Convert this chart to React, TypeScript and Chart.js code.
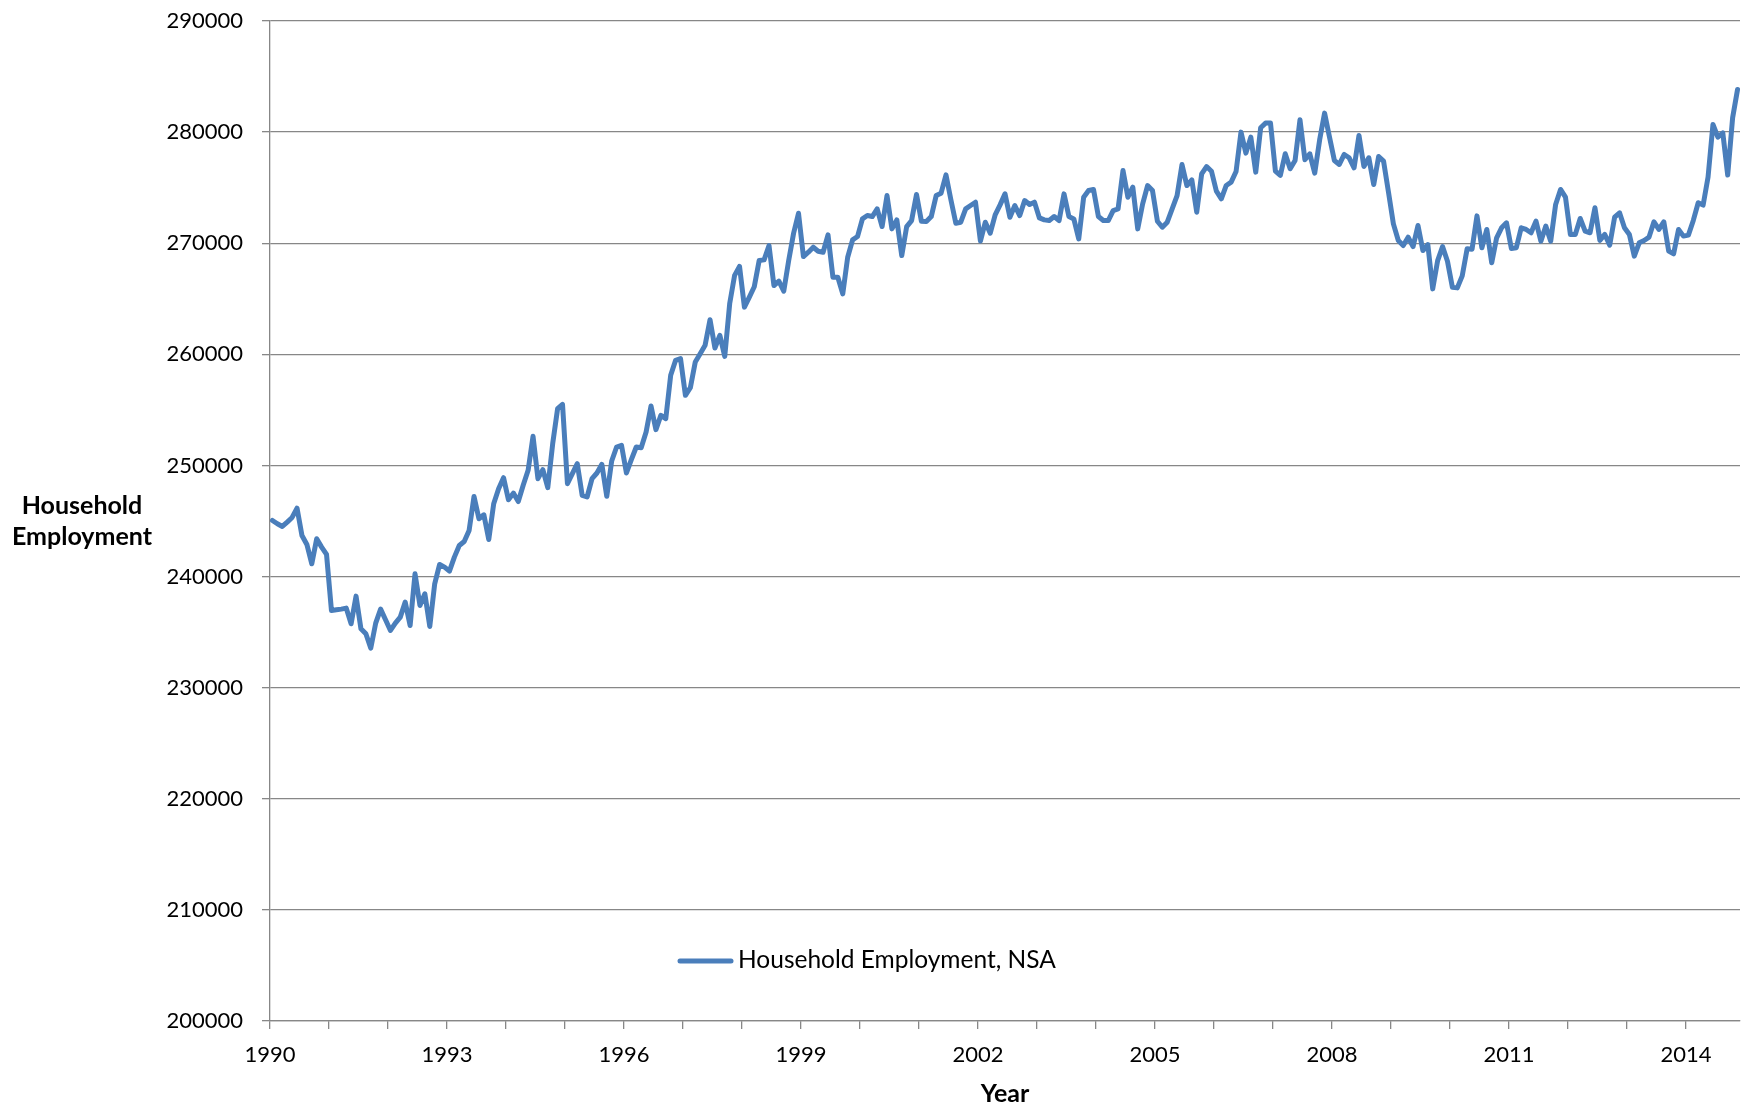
import { useEffect, useRef } from 'react';
import { Chart, registerables } from 'chart.js';

Chart.register(...registerables);

const START_YEAR = 1990;
const MONTHS_PER_YEAR = 12;
const LABEL_EVERY_YEARS = 3;
const Y_MIN = 200000;
const Y_MAX = 290000;
const Y_STEP = 10000;
const SERIES_NAME = 'Household Employment, NSA';
const Y_TITLE = ['Household', 'Employment'];
const X_TITLE = 'Year';

// Monthly values, Jan 1990 .. Nov 2014
const emp1990to1994 = [
  245050, 244750, 244510, 244900, 245320, 246160, 243700, 242890, 241150, 243400, 242650, 241990,
  236950, 237010, 237070, 237160, 235750, 238240, 235300, 234850, 233560, 235810, 237070, 236110,
  235150, 235810, 236350, 237700, 235600, 240250, 237400, 238450, 235510, 239350, 241090, 240850,
  240490, 241750, 242800, 243160, 244150, 247210, 245200, 245560, 243340, 246550, 247900, 248900,
  246910, 247510, 246750, 248210, 249560, 252620, 248810, 249620, 248000, 251960, 255110, 255500,
];
const emp1995to1999 = [
  248360, 249260, 250160, 247310, 247160, 248810, 249320, 250100, 247220, 250400, 251660, 251810,
  249320, 250520, 251660, 251600, 253010, 255350, 253220, 254510, 254210, 258110, 259460, 259610,
  256310, 257000, 259310, 260060, 260810, 263120, 260570, 261710, 259820, 264560, 267110, 267920,
  264250, 265150, 266080, 268450, 268500, 269790, 266190, 266580, 265680, 268440, 270900, 272700,
  268800, 269190, 269640, 269280, 269190, 270750, 266940, 266940, 265440, 268740, 270300, 270600,
];
const emp2000to2004 = [
  272190, 272490, 272400, 273090, 271500, 274290, 271290, 272100, 268890, 271500, 272040, 274380,
  271980, 271950, 272400, 274290, 274500, 276150, 273900, 271800, 271890, 273090, 273390, 273690,
  270200, 271890, 270900, 272560, 273450, 274440, 272340, 273390, 272490, 273840, 273480, 273690,
  272280, 272100, 272040, 272400, 272040, 274440, 272400, 272190, 270390, 274140, 274740, 274830,
  272400, 272040, 272040, 272940, 273090, 276540, 274140, 275040, 271290, 273540, 275190, 274740,
];
const emp2005to2009 = [
  271980, 271440, 271890, 273090, 274290, 277080, 275190, 275700, 272790, 276240, 276900, 276480,
  274680, 274000, 275200, 275500, 276450, 280000, 278110, 279550, 276400, 280390, 280810, 280810,
  276490, 276100, 278050, 276700, 277450, 281110, 277510, 278050, 276310, 279310, 281710, 279550,
  277450, 277090, 277990, 277690, 276790, 279700, 276910, 277690, 275290, 277810, 277390, 274600,
  271740, 270240, 269790, 270540, 269700, 271590, 269340, 269880, 265890, 268440, 269700, 268380,
];
const emp2010to2014 = [
  266040, 265980, 267060, 269500, 269460, 272460, 269590, 271240, 268240, 270490, 271390, 271840,
  269530, 269590, 271390, 271240, 270940, 271990, 270190, 271540, 270190, 273490, 274840, 274150,
  270790, 270790, 272230, 271090, 270940, 273190, 270250, 270790, 269830, 272350, 272740, 271390,
  270790, 268840, 270040, 270250, 270550, 271930, 271240, 271930, 269290, 269050, 271240, 270640,
  270730, 272050, 273640, 273430, 275950, 280690, 279550, 279940, 276130, 281290, 283840,
];

const values = [
  ...emp1990to1994,
  ...emp1995to1999,
  ...emp2000to2004,
  ...emp2005to2009,
  ...emp2010to2014,
];

const FONT = 'Lato, "Open Sans", sans-serif';
const LINE_COLOR = '#4A7EBB';
const GRID_COLOR = '#878787';

export default function App() {
  const ref = useRef<HTMLCanvasElement>(null);

  useEffect(() => {
    document.body.style.margin = '0';
    document.body.style.overflow = 'hidden';
    const canvas = ref.current;
    if (!canvas) return;

    const overlay = {
      id: 'overlay',
      afterDraw(chart: any) {
        const { ctx } = chart;
        ctx.save();
        // Y axis title (horizontal, two lines)
        ctx.fillStyle = '#000';
        ctx.font = `bold 25px ${FONT}`;
        ctx.textAlign = 'center';
        ctx.textBaseline = 'alphabetic';
        ctx.fillText(Y_TITLE[0], 82, 514);
        ctx.fillText(Y_TITLE[1], 82, 545);
        // Legend inside plot
        ctx.strokeStyle = LINE_COLOR;
        ctx.lineWidth = 5;
        ctx.lineCap = 'round';
        ctx.beginPath();
        ctx.moveTo(680, 961);
        ctx.lineTo(731, 961);
        ctx.stroke();
        ctx.font = `24.5px ${FONT}`;
        ctx.textAlign = 'left';
        ctx.fillText(SERIES_NAME, 738, 968);
        ctx.restore();
      },
    };

    const totalCategories = values.length;
    const tickValues: number[] = [];
    for (let v = 0; v < totalCategories; v += MONTHS_PER_YEAR) tickValues.push(v);

    const chart = new Chart(canvas, {
      type: 'line',
      data: {
        datasets: [
          {
            label: SERIES_NAME,
            data: values.map((v, i) => ({ x: i + 0.5, y: v })),
            borderColor: LINE_COLOR,
            backgroundColor: LINE_COLOR,
            borderWidth: 5,
            pointRadius: 0,
            tension: 0,
            borderJoinStyle: 'round',
            borderCapStyle: 'round',
            fill: false,
          },
        ],
      },
      options: {
        animation: false,
        responsive: true,
        maintainAspectRatio: false,
        layout: { padding: { left: 0, right: 8, top: 21, bottom: 0 } },
        plugins: {
          legend: { display: false },
          tooltip: { enabled: false },
        },
        scales: {
          x: {
            type: 'linear',
            min: 0,
            max: totalCategories,
            afterBuildTicks: (scale: any) => {
              scale.ticks = tickValues.map((v) => ({ value: v }));
            },
            afterFit: (scale: any) => {
              scale.height = 88;
              scale.paddingLeft = 0;
              scale.paddingRight = 0;
            },
            grid: {
              drawOnChartArea: false,
              drawTicks: true,
              tickLength: 8,
              color: GRID_COLOR,
              lineWidth: 1.3,
            },
            border: { display: true, color: GRID_COLOR, width: 1.3 },
            ticks: {
              autoSkip: false,
              maxRotation: 0,
              padding: 13,
              color: '#000',
              font: { family: FONT, size: 22 },
              callback: (value: any) => {
                const v = Number(value);
                return v % (MONTHS_PER_YEAR * LABEL_EVERY_YEARS) === 0
                  ? String(START_YEAR + v / MONTHS_PER_YEAR)
                  : '';
              },
            },
            title: {
              display: true,
              text: X_TITLE,
              color: '#000',
              font: { family: FONT, size: 25, weight: 'bold' },
              padding: { top: 0, bottom: 0 },
            },
          },
          y: {
            type: 'linear',
            min: Y_MIN,
            max: Y_MAX,
            afterFit: (scale: any) => {
              scale.width = 270;
              scale.paddingTop = 0;
              scale.paddingBottom = 0;
            },
            grid: {
              drawOnChartArea: true,
              drawTicks: true,
              tickLength: 8,
              color: GRID_COLOR,
              lineWidth: 1.3,
            },
            border: { display: true, color: GRID_COLOR, width: 1.3 },
            ticks: {
              stepSize: Y_STEP,
              padding: 19,
              color: '#000',
              font: { family: FONT, size: 22 },
              callback: (value: any) => String(value),
            },
          },
        },
      },
      plugins: [overlay],
    });

    return () => chart.destroy();
  }, []);

  return (
    <div
      style={{
        position: 'absolute',
        left: 0,
        top: 0,
        width: 1748,
        height: 1109,
        overflow: 'hidden',
        background: '#fff',
      }}
    >
      <canvas ref={ref} />
    </div>
  );
}
